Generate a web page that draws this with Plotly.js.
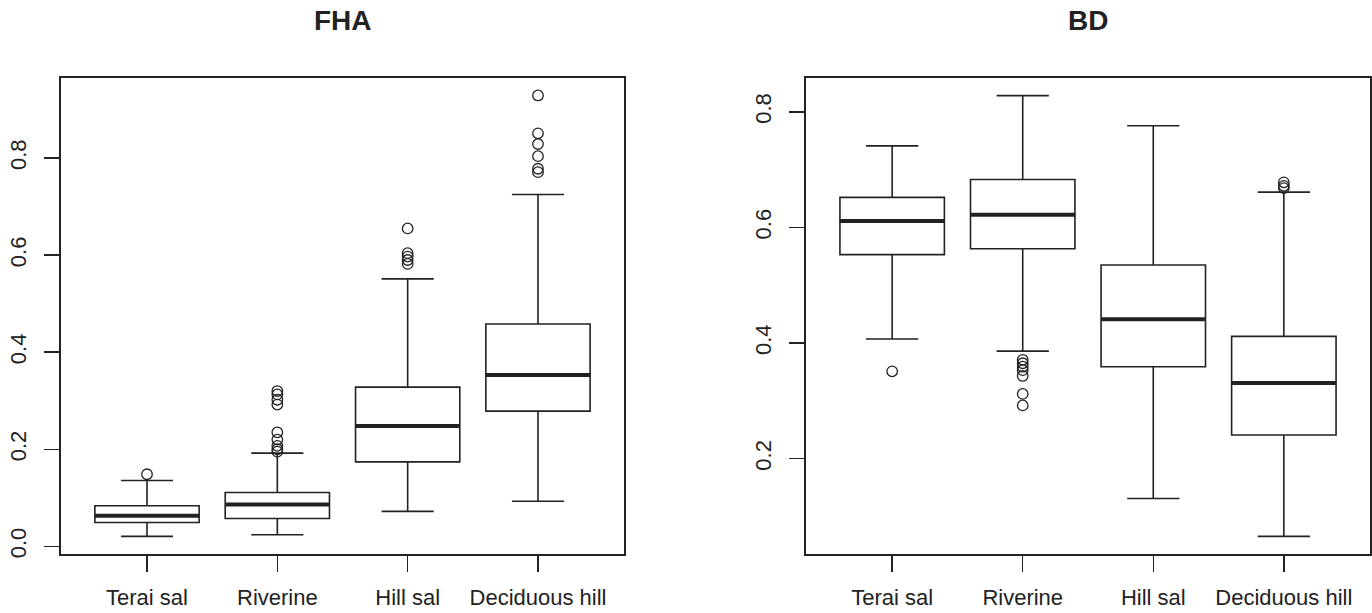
<!DOCTYPE html>
<html>
<head>
<meta charset="utf-8">
<script src="https://cdn.plot.ly/plotly-3.0.1.min.js"></script>
<style>html,body{margin:0;padding:0;background:#fff;}#chart{width:1372px;height:613px;}</style>
</head>
<body>
<div id="chart"></div>
<script>
// ---- data ----
const categories = ["Terai sal", "Riverine", "Hill sal", "Deciduous hill"];

// FHA panel
const fhaLower  = [0.0205, 0.024, 0.072, 0.093];
const fhaQ1     = [0.049, 0.0575, 0.174, 0.2785];
const fhaMedian = [0.063, 0.086, 0.248, 0.353];
const fhaQ3     = [0.0835, 0.111, 0.328, 0.458];
const fhaUpper  = [0.1355, 0.192, 0.551, 0.725];
const fhaOutTerai    = [0.1485];
const fhaOutRiverine = [0.195, 0.200, 0.207, 0.220, 0.235, 0.292, 0.302, 0.313, 0.320];
const fhaOutHill     = [0.582, 0.590, 0.597, 0.604, 0.655];
const fhaOutDecid    = [0.771, 0.778, 0.804, 0.829, 0.851, 0.929];

// BD panel
const bdLower  = [0.407, 0.386, 0.131, 0.0655];
const bdQ1     = [0.553, 0.563, 0.359, 0.241];
const bdMedian = [0.611, 0.622, 0.441, 0.331];
const bdQ3     = [0.652, 0.683, 0.535, 0.4115];
const bdUpper  = [0.741, 0.828, 0.776, 0.661];
const bdOutTerai    = [0.351];
const bdOutRiverine = [0.292, 0.312, 0.343, 0.353, 0.359, 0.365, 0.371];
const bdOutHill     = [];
const bdOutDecid    = [0.668, 0.672, 0.678];

const fhaTicks = [0, 0.2, 0.4, 0.6, 0.8];
const bdTicks  = [0.2, 0.4, 0.6, 0.8];
const positions = [1, 2, 3, 4];

// ---- build ----
const ink = "#222222";
const boxW = 0.8;

function panel(lower, q1, med, q3, upper, outs, xa, ya) {
  const tr = [];
  tr.push({
    type: "box", x: positions, q1: q1, median: med, q3: q3,
    lowerfence: lower, upperfence: upper,
    width: boxW, whiskerwidth: 0.5,
    fillcolor: "rgba(255,255,255,0)",
    line: {color: ink, width: 1.6},
    boxpoints: false, hoverinfo: "skip",
    xaxis: xa, yaxis: ya, showlegend: false
  });
  // thick median lines
  const mx = [], my = [];
  positions.forEach((p, i) => { mx.push(p - boxW / 2, p + boxW / 2, null); my.push(med[i], med[i], null); });
  tr.push({type: "scatter", mode: "lines", x: mx, y: my, line: {color: ink, width: 4},
           xaxis: xa, yaxis: ya, showlegend: false, hoverinfo: "skip"});
  // outliers
  const ox = [], oy = [];
  outs.forEach((arr, i) => arr.forEach(v => { ox.push(positions[i]); oy.push(v); }));
  tr.push({type: "scatter", mode: "markers", x: ox, y: oy,
           marker: {symbol: "circle-open", size: 10.5, color: ink, line: {width: 1.3, color: ink}},
           xaxis: xa, yaxis: ya, showlegend: false, hoverinfo: "skip"});
  return tr;
}

const data = [].concat(
  panel(fhaLower, fhaQ1, fhaMedian, fhaQ3, fhaUpper, [fhaOutTerai, fhaOutRiverine, fhaOutHill, fhaOutDecid], "x", "y"),
  panel(bdLower, bdQ1, bdMedian, bdQ3, bdUpper, [bdOutTerai, bdOutRiverine, bdOutHill, bdOutDecid], "x2", "y2")
);

const font = {family: "Liberation Sans, Arial, sans-serif", size: 22, color: ink};
function xaxis(domain, anchor) {
  return {domain: domain, anchor: anchor, range: [0.34, 4.66], tickmode: "array",
          tickvals: positions, ticktext: categories, ticks: "outside", ticklen: 16, tickwidth: 1.5,
          tickcolor: ink, showline: true, mirror: true, linecolor: ink, linewidth: 1.6,
          showgrid: false, zeroline: false, tickfont: font, ticklabelstandoff: 7, fixedrange: true};
}
function yaxis(range, ticks, anchor, standoff) {
  return {domain: [0, 1], anchor: anchor, range: range, tickmode: "array", tickvals: ticks,
          tickformat: ".1f", ticks: "outside", ticklen: 15, tickwidth: 1.5, tickcolor: ink,
          showline: true, mirror: true, linecolor: ink, linewidth: 1.6, showgrid: false,
          zeroline: false, tickangle: -90, tickfont: font, ticklabelstandoff: standoff, fixedrange: true};
}

const d1 = [61 / 1372, 624 / 1372];
const d2 = [806 / 1372, 1370 / 1372];

const layout = {
  width: 1372, height: 613,
  margin: {l: 0, r: 0, t: 78, b: 59},
  paper_bgcolor: "#ffffff", plot_bgcolor: "#ffffff",
  font: font,
  xaxis: xaxis(d1, "y"),
  yaxis: yaxis([-0.0158, 0.965], fhaTicks, "x", 10),
  xaxis2: xaxis(d2, "y2"),
  yaxis2: yaxis([0.035, 0.8585], bdTicks, "x2", 10),
  annotations: [
    {text: "<b>FHA</b>", xref: "paper", yref: "paper", x: (d1[0] + d1[1]) / 2, y: 1 + 57 / 476,
     xanchor: "center", yanchor: "middle", showarrow: false,
     font: {family: "Liberation Sans, Arial, sans-serif", size: 28, color: ink}},
    {text: "<b>BD</b>", xref: "paper", yref: "paper", x: (d2[0] + d2[1]) / 2, y: 1 + 57 / 476,
     xanchor: "center", yanchor: "middle", showarrow: false,
     font: {family: "Liberation Sans, Arial, sans-serif", size: 28, color: ink}}
  ]
};

Plotly.newPlot("chart", data, layout, {staticPlot: true, displayModeBar: false});
</script>
</body>
</html>
